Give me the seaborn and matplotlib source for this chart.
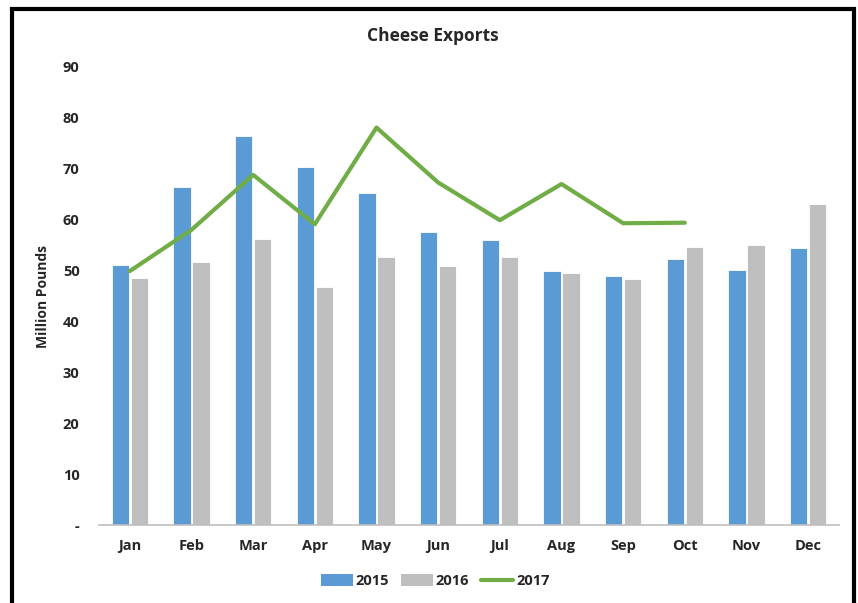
import matplotlib
matplotlib.use("Agg")
import matplotlib.pyplot as plt
from matplotlib.patches import Rectangle, Patch
from matplotlib.lines import Line2D
import seaborn as sns
import numpy as np
import pandas as pd

months = ["Jan", "Feb", "Mar", "Apr", "May", "Jun", "Jul", "Aug", "Sep", "Oct", "Nov", "Dec"]
exports_2015 = [51.0, 66.5, 76.4, 70.3, 65.2, 57.6, 56.1, 49.9, 48.9, 52.2, 50.1, 54.4]
exports_2016 = [48.5, 51.7, 56.2, 46.7, 52.6, 50.8, 52.7, 49.5, 48.3, 54.6, 55.0, 63.1]
exports_2017 = [49.9, 58.0, 68.8, 59.1, 78.1, 67.3, 59.9, 67.0, 59.3, 59.4]
y_ticks = [0, 10, 20, 30, 40, 50, 60, 70, 80, 90]
y_tick_labels = ["-", "10", "20", "30", "40", "50", "60", "70", "80", "90"]

c2015 = "#5B9BD5"
c2016 = "#BFBFBF"
c2017 = "#70AD47"

sns.set_theme(style="white")
plt.rcParams["font.family"] = ["Open Sans", "DejaVu Sans"]

bars = pd.DataFrame({
    "month": months * 2,
    "year": ["2015"] * len(months) + ["2016"] * len(months),
    "value": exports_2015 + exports_2016,
})
line = pd.DataFrame({"pos": np.arange(len(exports_2017)), "value": exports_2017})

fig = plt.figure(figsize=(8.58, 6.03), dpi=100)
ax = fig.add_axes([99 / 858, 78 / 603, 740 / 858, 458 / 603])

sns.barplot(data=bars, x="month", y="value", hue="year", order=months,
            palette={"2015": c2015, "2016": c2016}, width=0.62, gap=0.1,
            saturation=1, edgecolor="white", linewidth=0.6, ax=ax, legend=False)
sns.lineplot(data=line, x="pos", y="value", color=c2017, linewidth=3, ax=ax, legend=False)

ax.set_xlim(-0.5, len(months) - 0.5)
ax.set_ylim(0, 90)
ax.set_yticks(y_ticks)
ax.set_yticklabels(y_tick_labels)
ax.tick_params(axis="y", length=0, pad=14, labelsize=10.5)
ax.tick_params(axis="x", length=0, pad=10, labelsize=10.5)
for lbl in ax.get_xticklabels() + ax.get_yticklabels():
    lbl.set_fontweight("bold")
for s in ["top", "right", "left"]:
    ax.spines[s].set_visible(False)
ax.spines["bottom"].set_color("#BFBFBF")
ax.spines["bottom"].set_linewidth(1.2)
ax.set_xlabel("")
ax.set_ylabel("Million Pounds", fontsize=10, fontweight="bold", labelpad=9)
ax.grid(False)

fig.text(433 / 858, 1 - 36 / 603, "Cheese Exports", ha="center", va="center",
         fontsize=12.5, fontweight="bold")

handles = [Patch(facecolor=c2015, edgecolor="none"),
           Patch(facecolor=c2016, edgecolor="none"),
           Line2D([0], [0], color=c2017, linewidth=3)]
fig.legend(handles, ["2015", "2016", "2017"], loc="center", bbox_to_anchor=(435 / 858, 1 - 581 / 603),
           ncol=3, frameon=False, prop={"weight": "bold", "size": 10.5},
           handlelength=2.2, handleheight=0.9, columnspacing=0.8, handletextpad=0.2)

fig.patches.append(Rectangle((11.5 / 858, -0.05), (853.5 - 11.5) / 858, 1.05 - 9.5 / 603,
                             transform=fig.transFigure, fill=False, edgecolor="black",
                             linewidth=3, zorder=10))

fig.savefig("out.png", dpi=100)
